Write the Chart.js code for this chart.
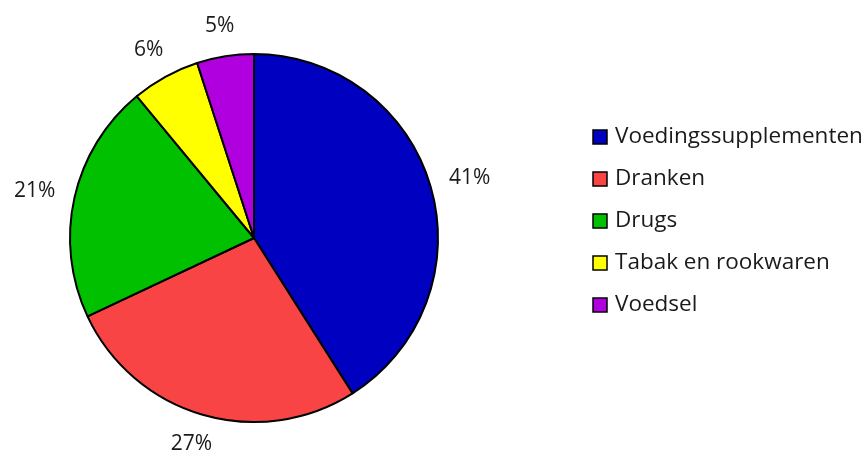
<!DOCTYPE html>
<html lang="nl">
  <head>
    <meta charset="utf-8" />
    <title>Verdeling per productgroep</title>
    <style>
      * {
        margin: 0;
        padding: 0;
      }
      body {
        background: #fff;
      }
      .chartBox {
        width: 867px;
        height: 457px;
      }
    </style>
  </head>
  <body>
    <div class="chartBox">
      <canvas id="myChart"></canvas>
    </div>

    <script src="https://cdn.jsdelivr.net/npm/chart.js@4/dist/chart.umd.min.js"></script>

    <script>
      const categories = [
        "Voedingssupplementen",
        "Dranken",
        "Drugs",
        "Tabak en rookwaren",
        "Voedsel",
      ];
      const shares = [41, 27, 21, 6, 5];
      const sliceColors = ["#0000c0", "#f84444", "#00c000", "#ffff00", "#b000e0"];

      const fontFamily = "'Open Sans', sans-serif";
      const textColor = "#1a1a1a";

      // percentage labels outside each slice
      const outsideLabels = {
        id: "outsideLabels",
        afterDatasetsDraw(chart) {
          const { ctx } = chart;
          const meta = chart.getDatasetMeta(0);
          ctx.save();
          ctx.font = `21px ${fontFamily}`;
          ctx.fillStyle = textColor;
          ctx.textAlign = "center";
          ctx.textBaseline = "middle";
          meta.data.forEach((arc, i) => {
            const { x, y, startAngle, endAngle, outerRadius } = arc.getProps(
              ["x", "y", "startAngle", "endAngle", "outerRadius"],
              true
            );
            const mid = (startAngle + endAngle) / 2;
            const dx = Math.cos(mid);
            const dy = Math.sin(mid);
            const text = shares[i] + "%";
            const w = ctx.measureText(text).width;
            const r = outerRadius + 20;
            const lx = x + dx * r + (dx * w) / 2;
            const ly = y + dy * r + dy * 11;
            ctx.fillText(text, lx, ly);
          });
          ctx.restore();
        },
      };

      // legend on the right, boxes with a black outline
      const sideLegend = {
        id: "sideLegend",
        afterDraw(chart) {
          const { ctx } = chart;
          const left = 593;
          const top = 137;
          const rowGap = 42;
          const box = 14;
          ctx.save();
          ctx.font = `22.5px ${fontFamily}`;
          ctx.textBaseline = "middle";
          ctx.textAlign = "left";
          categories.forEach((c, i) => {
            const cy = top + i * rowGap;
            ctx.fillStyle = sliceColors[i];
            ctx.fillRect(left, cy - box / 2, box, box);
            ctx.strokeStyle = "#000";
            ctx.lineWidth = 1.5;
            ctx.strokeRect(left, cy - box / 2, box, box);
            ctx.fillStyle = textColor;
            ctx.fillText(c, left + box + 8, cy);
          });
          ctx.restore();
        },
      };

      const data = {
        labels: categories,
        datasets: [
          {
            data: shares,
            backgroundColor: sliceColors,
            borderColor: "#000",
            borderWidth: 2,
          },
        ],
      };

      const config = {
        type: "pie",
        data: data,
        options: {
          responsive: true,
          maintainAspectRatio: false,
          animation: false,
          layout: {
            padding: { left: 69, top: 53, bottom: 34, right: 428 },
          },
          plugins: {
            tooltip: { enabled: false },
            legend: { display: false },
          },
        },
        plugins: [outsideLabels, sideLegend],
      };

      const myChart = new Chart(document.getElementById("myChart"), config);
    </script>
  </body>
</html>
